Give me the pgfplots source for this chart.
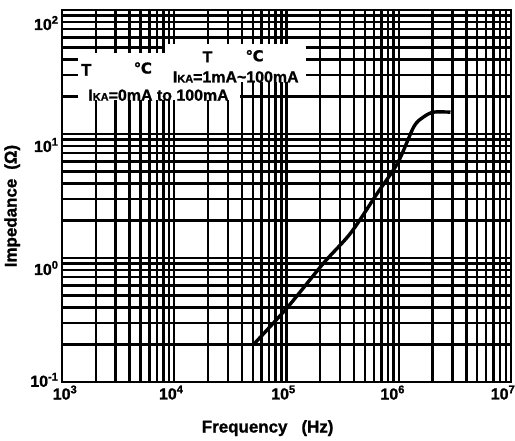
\documentclass[border=0pt]{standalone}
\usepackage{pgfplots}
\pgfplotsset{compat=1.18}
\usepackage{fontspec}
\setmainfont{Liberation Sans}[BoldFeatures={FakeBold=1.2}]
\newfontfamily\dejavu{DejaVu Sans}[BoldFeatures={FakeBold=1.2}]
\pgfplotstableread{
f z
50700 0.20
102000 0.40
214000 0.91
373000 1.59
646000 3.34
977000 5.83
1360000 11.4
1660000 13.7
2040000 15.0
2890000 15.0
}\curve
\begin{document}
\begin{tikzpicture}
\useasboundingbox (-62bp,-59bp) rectangle (453bp,382bp);
\begin{axis}[
 at={(0,0)}, anchor=south west,
 scale only axis, width=449bp, height=372bp,
 xmode=log, ymode=log,
 xmin=1e3, xmax=1e7, ymin=0.1, ymax=100,
 xmajorgrids=false, ymajorgrids=false,
 xminorgrids=true, yminorgrids=true,
 minor grid style={black, line width=2.4bp},
 axis line style={black, line width=2.6bp},
 major tick length=0pt, minor tick length=0pt,
 xtick={1064,9400,94000,883000,8490000},
 minor xtick={1e3,2e3,3e3,4e3,5e3,6e3,7e3,8e3,9e3,1e4,2e4,3e4,4e4,5e4,6e4,7e4,8e4,9e4,1e5,2e5,3e5,4e5,5e5,6e5,7e5,8e5,9e5,1e6,2e6,3e6,4e6,5e6,6e6,7e6,8e6,9e6,1e7},
 xticklabels={10\textsuperscript{3},10\textsuperscript{4},10\textsuperscript{5},10\textsuperscript{6},10\textsuperscript{7}},
 ytick={0.104,0.83,8.15,78.5},
 minor ytick={0.1,0.2,0.3,0.4,0.5,0.6,0.7,0.8,0.9,1,2,3,4,5,6,7,8,9,10,20,30,40,50,60,70,80,90,100},
 yticklabels={10\textsuperscript{-1},10\textsuperscript{0},10\textsuperscript{1},10\textsuperscript{2}},
 ticklabel style={font=\fontsize{16}{16}\selectfont\bfseries},
 xlabel={Frequency\hspace{14bp}(Hz)},
 ylabel={Impedance\hspace{9bp}(Ω)},
 label style={font=\fontsize{17}{17}\selectfont\bfseries},
 xlabel style={at={(axis description cs:0.458,-0.124)}, anchor=center},
 ylabel style={at={(axis description cs:-0.111,0.473)}, anchor=center},
]
\fill[white] (axis cs:1390,18.8) rectangle (axis cs:38800,45);
\fill[white] (axis cs:8320,26.3) rectangle (axis cs:148000,53);
\addplot[black, line width=3.4bp, smooth] table[x=f, y=z] {\curve};
\node[font=\fontsize{17}{17}\selectfont\bfseries] at (rel axis cs:0.054,0.839) {T};
\node[font=\fontsize{15}{15}\selectfont\bfseries\dejavu] at (rel axis cs:0.180,0.844) {℃};
\node[font=\fontsize{16}{16}\selectfont\bfseries] at (rel axis cs:0.215,0.771) {I{\fontsize{11}{11}\selectfont KA}=0mA to 100mA};
\node[font=\fontsize{16}{16}\selectfont\bfseries] at (rel axis cs:0.324,0.874) {T};
\node[font=\fontsize{15}{15}\selectfont\bfseries\dejavu] at (rel axis cs:0.429,0.877) {℃};
\node[font=\fontsize{16}{16}\selectfont\bfseries] at (rel axis cs:0.387,0.820) {I{\fontsize{11}{11}\selectfont KA}=1mA\textasciitilde100mA};
\end{axis}
\end{tikzpicture}
\end{document}
